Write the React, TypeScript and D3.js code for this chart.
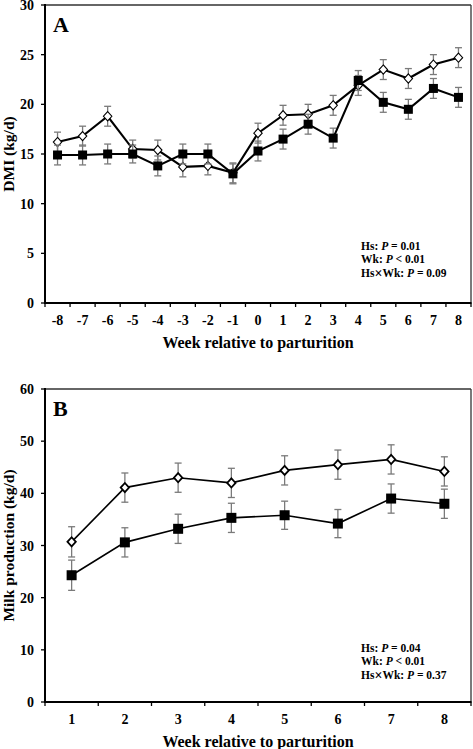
import React from "react";
import * as d3 from "d3";

const weeksA = [-8, -7, -6, -5, -4, -3, -2, -1, 0, 1, 2, 3, 4, 5, 6, 7, 8];
const openA = [16.2, 16.8, 18.8, 15.5, 15.4, 13.7, 13.8, 13.1, 17.1, 18.9, 19.0, 19.9, 21.9, 23.5, 22.6, 24.0, 24.7];
const openSeA = [1.0, 1.0, 1.0, 0.9, 1.0, 1.0, 0.9, 1.0, 1.0, 1.0, 1.0, 1.0, 1.0, 1.0, 1.0, 1.0, 1.0];
const filledA = [14.9, 14.9, 15.0, 15.0, 13.8, 15.0, 15.0, 13.0, 15.3, 16.5, 18.0, 16.6, 22.4, 20.2, 19.5, 21.6, 20.7];
const filledSeA = [1.0, 1.0, 1.0, 0.9, 1.0, 1.0, 1.0, 1.0, 1.0, 1.0, 1.0, 1.0, 1.0, 1.0, 1.0, 1.0, 1.0];
const yTicksA = [0, 5, 10, 15, 20, 25, 30];
const statsA = [
  ["Hs", ": ", "P", " = 0.01"],
  ["Wk", ": ", "P", " < 0.01"],
  ["Hs×Wk", ": ", "P", " = 0.09"],
];

const weeksB = [1, 2, 3, 4, 5, 6, 7, 8];
const openB = [30.7, 41.1, 43.0, 42.0, 44.4, 45.5, 46.5, 44.2];
const openSeB = [2.9, 2.8, 2.8, 2.8, 2.8, 2.8, 2.8, 2.8];
const filledB = [24.3, 30.6, 33.2, 35.3, 35.8, 34.2, 39.0, 38.0];
const filledSeB = [2.9, 2.8, 2.8, 2.8, 2.7, 2.7, 2.8, 2.8];
const yTicksB = [0, 10, 20, 30, 40, 50, 60];
const statsB = [
  ["Hs", ": ", "P", " = 0.04"],
  ["Wk", ": ", "P", " < 0.01"],
  ["Hs×Wk", ": ", "P", " = 0.37"],
];

const FONT = "'Liberation Serif', 'Times New Roman', serif";

type PanelProps = {
  weeks: number[];
  open: number[];
  openSe: number[];
  filled: number[];
  filledSe: number[];
  yTicks: number[];
  stats: string[][];
  statsY: number;
  left: number;
  right: number;
  top: number;
  bottom: number;
  letter: string;
  yTitle: string;
  lineW: number;
  diamondStroke: number;
  sq: number;
};

function StatLabel({ s }: { s: string[] }) {
  const name = s[0];
  const parts = name.split("×");
  return (
    <>
      {parts.length > 1 ? (
        <>
          {parts[0]}
          <tspan fontSize={14} dy={1}>×</tspan>
          <tspan dy={-1}>{parts[1]}</tspan>
        </>
      ) : (
        name
      )}
      {s[1]}
      <tspan fontStyle="italic">{s[2]}</tspan>
      {s[3]}
    </>
  );
}

function Panel(p: PanelProps) {
  const x = d3
    .scaleBand<number>()
    .domain(p.weeks)
    .range([p.left, p.right])
    .padding(0);
  const yMax = p.yTicks[p.yTicks.length - 1];
  const y = d3.scaleLinear().domain([0, yMax]).range([p.bottom, p.top]);
  const cx = (w: number) => (x(w) as number) + x.bandwidth() / 2;
  const line = d3
    .line<number>()
    .x((_, i) => cx(p.weeks[i]))
    .y((d) => y(d));
  const boundaries = [...p.weeks.map((w) => x(w) as number), p.right];
  const errColor = "#7a7a7a";
  const cap = 3.5;

  const errBars = (vals: number[], se: number[], key: string) =>
    vals.map((v, i) => {
      const xx = cx(p.weeks[i]);
      const y1 = y(v + se[i]);
      const y2 = y(v - se[i]);
      return (
        <g key={key + i} stroke={errColor} strokeWidth={1.3}>
          <line x1={xx} x2={xx} y1={y1} y2={y2} />
          <line x1={xx - cap} x2={xx + cap} y1={y1} y2={y1} />
          <line x1={xx - cap} x2={xx + cap} y1={y2} y2={y2} />
        </g>
      );
    });

  const midY = (p.top + p.bottom) / 2;
  const midX = (p.left + p.right) / 2;

  return (
    <g fontFamily={FONT} fontWeight="bold">
      {/* frame */}
      <line x1={p.left} x2={p.right} y1={p.top} y2={p.top} stroke="#333" strokeWidth={1.3} />
      <line x1={p.right} x2={p.right} y1={p.top} y2={p.bottom} stroke="#333" strokeWidth={1.3} />
      {/* y ticks */}
      {p.yTicks.map((t) => (
        <g key={"yt" + t}>
          <line x1={p.left - 4} x2={p.left} y1={y(t)} y2={y(t)} stroke="#000" strokeWidth={1.3} />
          <text x={p.left - 11} y={y(t)} dy="0.36em" textAnchor="end" fontSize={14}>
            {t}
          </text>
        </g>
      ))}
      {/* x ticks */}
      {boundaries.map((b, i) => (
        <line key={"xt" + i} x1={b} x2={b} y1={p.bottom} y2={p.bottom + 4} stroke="#000" strokeWidth={1.3} />
      ))}
      {p.weeks.map((w) => (
        <text key={"xl" + w} x={cx(w)} y={p.bottom + 22} textAnchor="middle" fontSize={14}>
          {w}
        </text>
      ))}
      {/* axes */}
      <line x1={p.left} x2={p.left} y1={p.top - 1} y2={p.bottom + 1} stroke="#000" strokeWidth={2} />
      <line x1={p.left - 1} x2={p.right + 0.5} y1={p.bottom} y2={p.bottom} stroke="#000" strokeWidth={2} />
      {/* titles */}
      <text x={midX} y={p.bottom + 45} textAnchor="middle" fontSize={16}>
        Week relative to parturition
      </text>
      <text transform={`translate(14,${midY}) rotate(-90)`} textAnchor="middle" fontSize={15.5}>
        {p.yTitle}
      </text>
      <text x={p.left + 8} y={p.top + 27} fontSize={22}>
        {p.letter}
      </text>
      {/* stats */}
      {p.stats.map((s, i) => (
        <text key={"st" + i} x={361} y={p.statsY + i * 13.3} fontSize={11.5}>
          <StatLabel s={s} />
        </text>
      ))}
      {/* open series */}
      {errBars(p.open, p.openSe, "eo")}
      <path d={line(p.open) || ""} fill="none" stroke="#000" strokeWidth={p.lineW} />
      {p.open.map((v, i) => {
        const xx = cx(p.weeks[i]);
        const yy = y(v);
        const hw = 4.2;
        const hh = 4.6;
        return (
          <path
            key={"mo" + i}
            d={`M${xx},${yy - hh}L${xx + hw},${yy}L${xx},${yy + hh}L${xx - hw},${yy}Z`}
            fill="#fff"
            stroke="#000"
            strokeWidth={p.diamondStroke}
          />
        );
      })}
      {/* filled series */}
      {errBars(p.filled, p.filledSe, "ef")}
      <path d={line(p.filled) || ""} fill="none" stroke="#000" strokeWidth={p.lineW} />
      {p.filled.map((v, i) => {
        const xx = cx(p.weeks[i]);
        const yy = y(v);
        return (
          <rect key={"mf" + i} x={xx - p.sq / 2} y={yy - p.sq / 2} width={p.sq} height={p.sq} fill="#000" />
        );
      })}
    </g>
  );
}

export default function App() {
  return (
    <svg
      width={473}
      height={749}
      style={{ position: "absolute", left: 0, top: 0, background: "#fff" }}
    >
      <rect width={473} height={749} fill="#fff" />
      <Panel
        weeks={weeksA}
        open={openA}
        openSe={openSeA}
        filled={filledA}
        filledSe={filledSeA}
        yTicks={yTicksA}
        stats={statsA}
        statsY={250}
        left={45}
        right={471}
        top={5}
        bottom={303}
        letter="A"
        yTitle="DMI (kg/d)"
        lineW={2.1}
        diamondStroke={1.1}
        sq={9}
      />
      <Panel
        weeks={weeksB}
        open={openB}
        openSe={openSeB}
        filled={filledB}
        filledSe={filledSeB}
        yTicks={yTicksB}
        stats={statsB}
        statsY={652}
        left={45}
        right={471}
        top={389}
        bottom={702}
        letter="B"
        yTitle="Milk production (kg/d)"
        lineW={1.6}
        diamondStroke={1.8}
        sq={10}
      />
    </svg>
  );
}
